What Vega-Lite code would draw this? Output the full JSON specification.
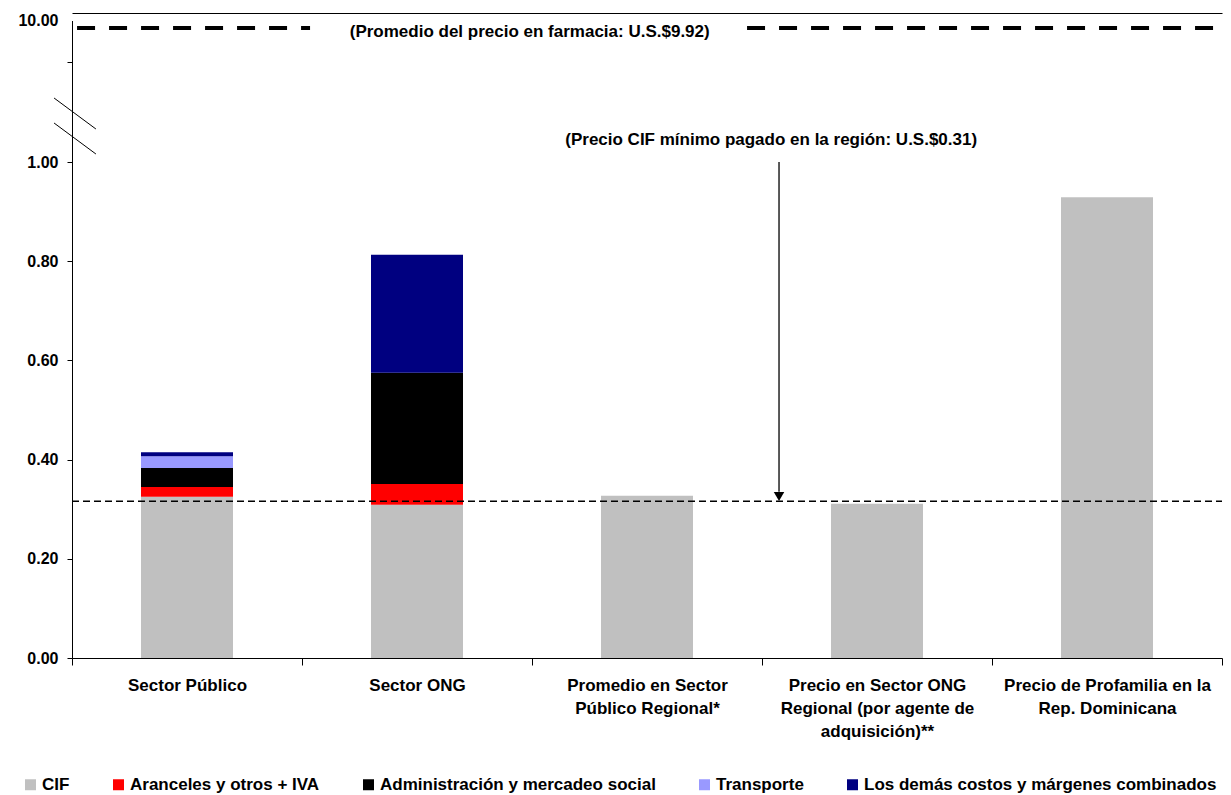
{
  "$schema": "https://vega.github.io/schema/vega-lite/v6.json",
  "width": 1150,
  "height": 645,
  "autosize": {"type": "none"},
  "padding": {"left": 72, "top": 13, "right": 9, "bottom": 137},
  "background": "white",
  "config": {
    "font": "Liberation Sans",
    "view": {"stroke": null},
    "axis": {"grid": false}
  },
  "datasets": {
    "barras": [
      {"categoria": "Sector Público", "componente": "CIF", "valor": 0.325, "orden": 1},
      {"categoria": "Sector Público", "componente": "Aranceles y otros + IVA", "valor": 0.020, "orden": 2},
      {"categoria": "Sector Público", "componente": "Administración y mercadeo social", "valor": 0.038, "orden": 3},
      {"categoria": "Sector Público", "componente": "Transporte", "valor": 0.024, "orden": 4},
      {"categoria": "Sector Público", "componente": "Los demás costos y márgenes combinados", "valor": 0.008, "orden": 5},
      {"categoria": "Sector ONG", "componente": "CIF", "valor": 0.309, "orden": 1},
      {"categoria": "Sector ONG", "componente": "Aranceles y otros + IVA", "valor": 0.042, "orden": 2},
      {"categoria": "Sector ONG", "componente": "Administración y mercadeo social", "valor": 0.224, "orden": 3},
      {"categoria": "Sector ONG", "componente": "Los demás costos y márgenes combinados", "valor": 0.238, "orden": 5},
      {"categoria": "Promedio en Sector Público Regional*", "componente": "CIF", "valor": 0.327, "orden": 1},
      {"categoria": "Precio en Sector ONG Regional (por agente de adquisición)**", "componente": "CIF", "valor": 0.311, "orden": 1},
      {"categoria": "Precio de Profamilia en la Rep. Dominicana", "componente": "CIF", "valor": 0.929, "orden": 1}
    ],
    "minimo": [{"x0": 0, "x1": 5, "valor": 0.316}],
    "farmacia": [
      {"x0": 0.022, "x1": 1.035, "valor": 9.92},
      {"x0": 2.935, "x1": 5, "valor": 9.92}
    ],
    "flecha": [{"x0": 3.074, "valor": 1.004, "valor2": 0.335}],
    "punta": [{"x0": 3.074, "valor": 0.3256}],
    "corte": [
      {"x0": -0.078, "x1": 0.104, "valor": 3.56, "valor2": 2.32},
      {"x0": -0.078, "x1": 0.104, "valor": 2.56, "valor2": 1.32}
    ],
    "textos": [
      {"x0": 1.99, "valor": 9.92, "texto": "(Promedio del precio en farmacia: U.S.$9.92)"},
      {"x0": 3.04, "valor": 2.06, "texto": "(Precio CIF mínimo pagado en la región: U.S.$0.31)"}
    ]
  },
  "encoding": {
    "y": {
      "field": "valor",
      "type": "quantitative",
      "title": null,
      "scale": {"domain": [0, 1, 5, 9.92, 10], "range": [645, 149, 49, 15, 7.5], "nice": false, "zero": false},
      "axis": {
        "values": [0, 0.2, 0.4, 0.6, 0.8, 1, 5, 10],
        "labelExpr": "datum.value == 5 ? '' : format(datum.value, '.2f')",
        "labelFontSize": 16,
        "labelFontWeight": "bold",
        "labelColor": "black",
        "labelPadding": 9,
        "tickSize": 5,
        "tickColor": "black",
        "tickOpacity": {"condition": {"test": "datum.value == 10", "value": 0}, "value": 1},
        "domainColor": "black",
        "grid": false
      }
    }
  },
  "layer": [
    {
      "data": {"name": "barras"},
      "mark": {"type": "bar", "width": {"band": 0.4}},
      "encoding": {
        "x": {
          "field": "categoria",
          "type": "nominal",
          "sort": null,
          "title": null,
          "scale": {"paddingInner": 0, "paddingOuter": 0},
          "axis": {
            "orient": "bottom",
            "labelAngle": 0,
            "tickBand": "extent",
            "tickSize": 7,
            "tickColor": "black",
            "domainColor": "black",
            "labelPadding": 12,
            "labelFontSize": 17,
            "labelFontWeight": "bold",
            "labelColor": "black",
            "labelLimit": 0,
            "labelBaseline": "top",
            "labelLineHeight": 23,
            "labelExpr": "datum.label == 'Promedio en Sector Público Regional*' ? ['Promedio en Sector', 'Público Regional*'] : datum.label == 'Precio en Sector ONG Regional (por agente de adquisición)**' ? ['Precio en Sector ONG', 'Regional (por agente de', 'adquisición)**'] : datum.label == 'Precio de Profamilia en la Rep. Dominicana' ? ['Precio de Profamilia en la', 'Rep. Dominicana'] : datum.label"
          }
        },
        "color": {
          "field": "componente",
          "type": "nominal",
          "scale": {
            "domain": ["CIF", "Aranceles y otros + IVA", "Administración y mercadeo social", "Transporte", "Los demás costos y márgenes combinados"],
            "range": ["#C0C0C0", "#FF0000", "#000000", "#9999FF", "#000080"]
          },
          "legend": {
            "orient": "none",
            "legendX": -50,
            "legendY": 763,
            "direction": "horizontal",
            "columns": 5,
            "title": null,
            "symbolType": "square",
            "symbolSize": 121,
            "symbolStrokeWidth": 0,
            "symbolOpacity": 1,
            "labelFontSize": 17,
            "labelFontWeight": "bold",
            "labelColor": "black",
            "labelOffset": 3,
            "columnPadding": 40,
            "labelLimit": 0
          }
        },
        "order": {"field": "orden", "type": "quantitative"}
      }
    },
    {
      "encoding": {
        "x": {
          "field": "x0",
          "type": "quantitative",
          "title": null,
          "scale": {"domain": [0, 5], "nice": false, "zero": false},
          "axis": {"orient": "top", "labels": false, "ticks": false, "domain": true, "domainColor": "black", "grid": false}
        }
      },
      "layer": [
        {
          "data": {"name": "minimo"},
          "mark": {"type": "rule", "color": "black", "strokeWidth": 1.3, "strokeDash": [7, 4]},
          "encoding": {"x2": {"field": "x1"}}
        },
        {
          "data": {"name": "farmacia"},
          "mark": {"type": "rule", "color": "black", "strokeWidth": 4, "strokeDash": [18, 14]},
          "encoding": {"x2": {"field": "x1"}}
        },
        {
          "data": {"name": "flecha"},
          "mark": {"type": "rule", "color": "black", "strokeWidth": 1.3},
          "encoding": {"y2": {"field": "valor2"}}
        },
        {
          "data": {"name": "punta"},
          "mark": {"type": "point", "shape": "triangle-down", "filled": true, "color": "black", "size": 110, "opacity": 1},
          "encoding": {}
        },
        {
          "data": {"name": "corte"},
          "mark": {"type": "rule", "color": "black", "strokeWidth": 1},
          "encoding": {"x2": {"field": "x1"}, "y2": {"field": "valor2"}}
        },
        {
          "data": {"name": "textos"},
          "mark": {"type": "text", "fontSize": 17, "fontWeight": "bold", "color": "black", "align": "center", "baseline": "middle", "dy": 4},
          "encoding": {"text": {"field": "texto"}}
        }
      ]
    }
  ],
  "resolve": {"scale": {"x": "independent"}, "axis": {"x": "independent"}}
}
